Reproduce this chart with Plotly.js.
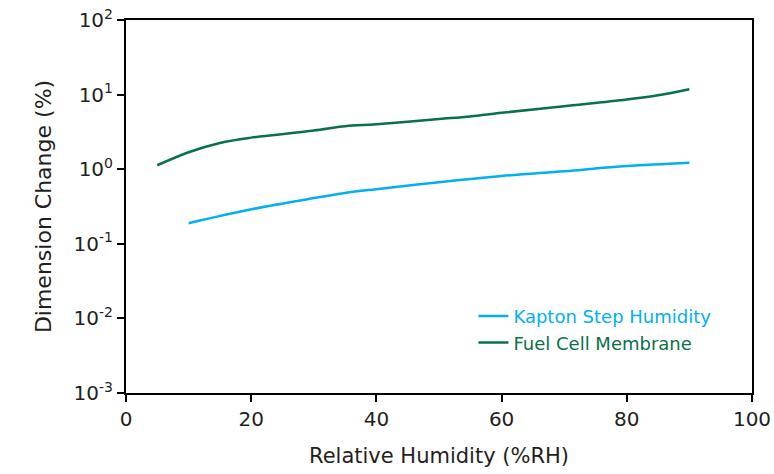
<!DOCTYPE html>
<html><head><meta charset="utf-8">
<script src="https://cdn.plot.ly/plotly-3.0.1.min.js"></script>
<style>html,body{margin:0;padding:0;background:#fff;}#chart{width:774px;height:474px;}</style>
</head><body><div id="chart"></div>
<script>
// Data
const kaptonRH = [10, 20, 30, 35, 40, 50, 60, 70, 80, 90];
const kaptonDim = [0.189, 0.29, 0.41, 0.48, 0.54, 0.67, 0.81, 0.94, 1.1, 1.22];
const fuelRH = [5, 10, 15, 20, 30, 35, 40, 50, 55, 60, 70, 80, 85, 90];
const fuelDim = [1.13, 1.69, 2.25, 2.65, 3.3, 3.76, 4.0, 4.7, 5.1, 5.7, 7.0, 8.6, 9.8, 11.8];
const yTickVals = [0.001, 0.01, 0.1, 1, 10, 100];
const yTickText = ['10<sup>-3</sup>', '10<sup>-2</sup>', '10<sup>-1</sup>', '10<sup>0</sup>', '10<sup>1</sup>', '10<sup>2</sup>'];
const xTickVals = [0, 20, 40, 60, 80, 100];

const blue = '#00b0ef';
const green = '#08704a';
const font = '"DejaVu Sans", sans-serif';
const txt = '#231f20';

const traces = [
  {x: kaptonRH, y: kaptonDim, mode: 'lines', line: {color: blue, width: 2.5, shape: 'spline'},
   name: '<span style="color:' + blue + '">Kapton Step Humidity</span>'},
  {x: fuelRH, y: fuelDim, mode: 'lines', line: {color: green, width: 2.5, shape: 'spline'},
   name: '<span style="color:' + green + '">Fuel Cell Membrane</span>'}
];

const layout = {
  width: 774, height: 474,
  margin: {l: 126, r: 22, t: 20, b: 81},
  paper_bgcolor: '#fff', plot_bgcolor: '#fff',
  font: {family: font, color: txt},
  showlegend: true,
  legend: {x: 0.555, y: 0.255, xanchor: 'left', yanchor: 'top', bgcolor: 'rgba(0,0,0,0)',
    font: {size: 18, family: font}, itemwidth: 30, tracegroupgap: 0},
  xaxis: {range: [0, 100], tickvals: xTickVals, showgrid: false, zeroline: false,
    showline: true, linecolor: '#000', linewidth: 2, mirror: true,
    ticks: 'outside', ticklen: 7, tickwidth: 2, tickcolor: '#000',
    tickfont: {size: 20, family: font, color: txt},
    title: {text: 'Relative Humidity (%RH)', font: {size: 21, family: font, color: txt}, standoff: 18}},
  yaxis: {type: 'log', range: [-3, 2], tickvals: yTickVals, ticktext: yTickText,
    showgrid: false, zeroline: false,
    showline: true, linecolor: '#000', linewidth: 2, mirror: true,
    ticks: 'outside', ticklen: 7, tickwidth: 2, tickcolor: '#000',
    tickfont: {size: 20, family: font, color: txt},
    title: {text: 'Dimension Change (%)', font: {size: 22, family: font, color: txt}, standoff: 16}}
};

Plotly.newPlot('chart', traces, layout, {displayModeBar: false, staticPlot: true});
</script></body></html>
